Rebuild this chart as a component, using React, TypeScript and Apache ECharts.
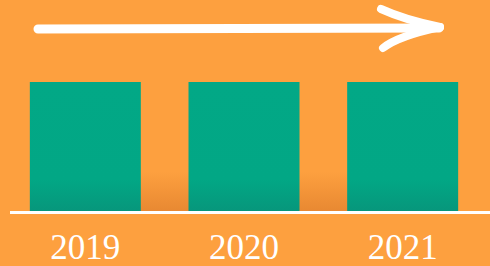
import React, { useEffect, useRef } from "react";
import * as echarts from "echarts";

const years = ["2019", "2020", "2021"];
const values = [10, 10, 10];

export default function App() {
  const ref = useRef<HTMLDivElement>(null);
  useEffect(() => {
    if (!ref.current) return;
    const chart = echarts.init(ref.current, null, { renderer: "svg" });
    chart.setOption({
      animation: false,
      backgroundColor: "#FDA03F",
      grid: { left: 6, right: 8, top: 82, bottom: 54, containLabel: false },
      xAxis: {
        type: "category",
        data: years,
        axisLine: { show: false },
        axisTick: { show: false },
        axisLabel: {
          color: "#ffffff",
          fontFamily: "Liberation Serif",
          fontSize: 35,
          lineHeight: 30,
          margin: 20,
        },
      },
      yAxis: { type: "value", min: 0, max: 10, show: false },
      series: [
        {
          type: "bar",
          data: values,
          barWidth: 111,
          z: 3,
          itemStyle: {
            color: new echarts.graphic.LinearGradient(0, 0, 0, 1, [
              { offset: 0, color: "#02A886" },
              { offset: 0.75, color: "#02A785" },
              { offset: 1, color: "#07967B" },
            ]),
          },
        },
      ],
      graphic: [
        {
          type: "rect",
          z: -1,
          silent: true,
          shape: { x: 30, y: 172, width: 428, height: 40 },
          style: {
            fill: new echarts.graphic.LinearGradient(0, 0, 0, 1, [
              { offset: 0, color: "rgba(200,100,30,0)" },
              { offset: 1, color: "rgba(200,100,30,0.4)" },
            ]),
          },
        },
        {
          type: "line",
          z: 10,
          shape: { x1: 10, y1: 212.5, x2: 490, y2: 212.5 },
          style: { stroke: "#ffffff", lineWidth: 3 },
        },
        {
          type: "line",
          z: 10,
          shape: { x1: 38, y1: 29, x2: 439, y2: 28 },
          style: { stroke: "#ffffff", lineWidth: 9, lineCap: "round" },
        },
        {
          type: "bezierCurve",
          z: 10,
          shape: { x1: 381, y1: 9, x2: 440, y2: 27, cpx1: 405, cpy1: 20 },
          style: { stroke: "#ffffff", lineWidth: 8, lineCap: "round", fill: "none" },
        },
        {
          type: "bezierCurve",
          z: 10,
          shape: { x1: 383, y1: 48, x2: 440, y2: 27, cpx1: 398, cpy1: 36 },
          style: { stroke: "#ffffff", lineWidth: 8, lineCap: "round", fill: "none" },
        },
      ],
    });
    return () => chart.dispose();
  }, []);
  return <div ref={ref} style={{ width: 490, height: 266, position: "fixed", left: 0, top: 0 }} />;
}
